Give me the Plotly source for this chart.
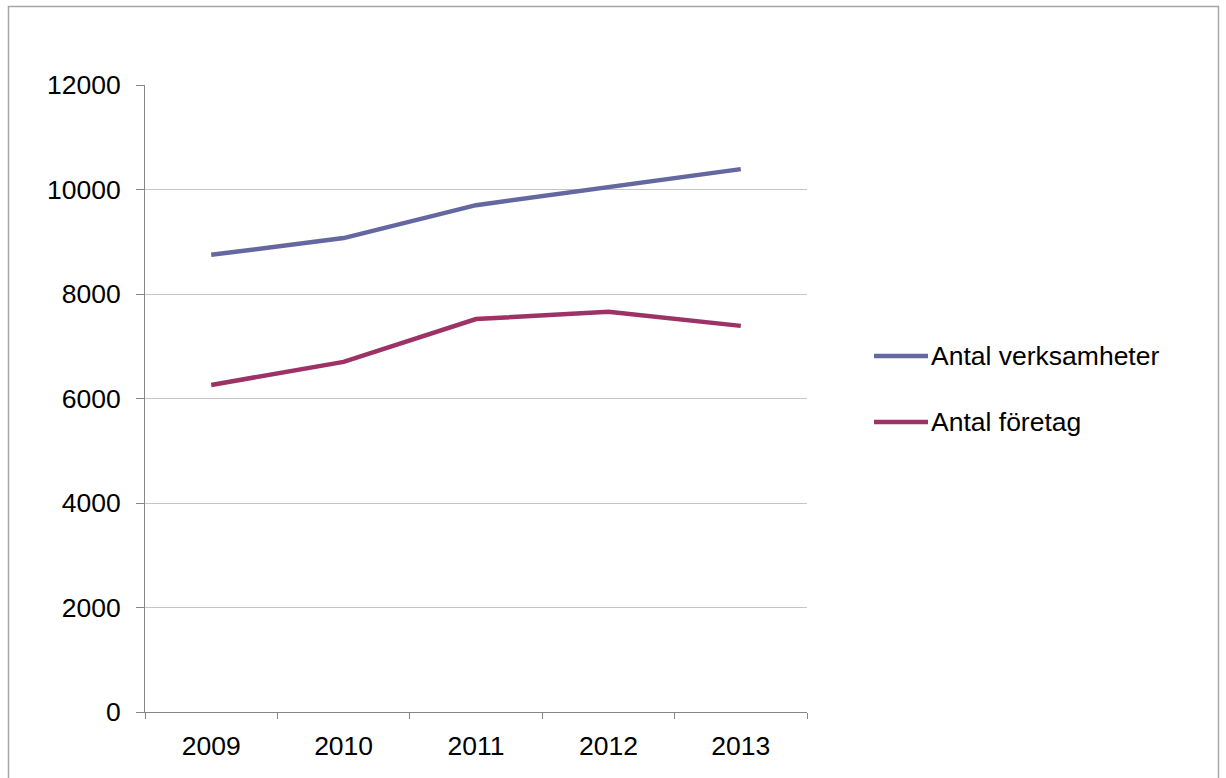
import plotly.graph_objects as go

years = ["2009", "2010", "2011", "2012", "2013"]
verksamheter = [8750, 9070, 9700, 10050, 10390]
foretag = [6260, 6700, 7520, 7660, 7390]
series_names = ["Antal verksamheter", "Antal företag"]
series_colors = ["#6567A1", "#9C3266"]

W, H = 1226, 778
L, R, T, B = 145, 419, 85, 66
PW, PH = W - L - R, H - T - B


def px_x(x):
    return (x - L) / PW


def px_y(y):
    return (H - B - y) / PH


fig = go.Figure()
for name, vals, col in zip(series_names, [verksamheter, foretag], series_colors):
    fig.add_trace(go.Scatter(x=years, y=vals, mode="lines", name=name,
                             line=dict(color=col, width=4.5), showlegend=False))

font = dict(family="Liberation Sans, Arial, sans-serif", size=26.5, color="#000000")

shapes = [
    dict(type="rect", xref="paper", yref="paper",
         x0=px_x(8.5), x1=px_x(1218.5), y0=px_y(6.5), y1=px_y(800),
         line=dict(color="#a6a6a6", width=1.5), fillcolor="rgba(0,0,0,0)", layer="below"),
]
annotations = []
legend_y = [356, 422]
for name, col, ly in zip(series_names, series_colors, legend_y):
    shapes.append(dict(type="line", xref="paper", yref="paper",
                       x0=px_x(874), x1=px_x(928), y0=px_y(ly), y1=px_y(ly),
                       line=dict(color=col, width=4.5)))
    annotations.append(dict(xref="paper", yref="paper", x=px_x(929), y=px_y(ly),
                            xanchor="left", yanchor="middle", text=name,
                            showarrow=False, font=font))

fig.update_layout(
    width=W, height=H,
    margin=dict(l=L, r=R, t=T, b=B),
    paper_bgcolor="white", plot_bgcolor="white",
    font=font,
    shapes=shapes,
    annotations=annotations,
    xaxis=dict(type="category", range=[-0.5, 4.5], showgrid=False,
               showline=True, linecolor="#868686", linewidth=1,
               ticks="outside", ticklen=6, tickcolor="#868686",
               tickson="boundaries", ticklabelstandoff=10,
               tickfont=font, fixedrange=True),
    yaxis=dict(range=[0, 12000], dtick=2000, tickformat="d", showgrid=True,
               gridcolor="#c4c4c4", gridwidth=1,
               showline=True, linecolor="#868686", linewidth=1,
               ticks="outside", ticklen=8, tickcolor="#868686",
               ticklabelstandoff=10, tickfont=font, zeroline=False,
               fixedrange=True),
)

fig.write_html("out.html")
